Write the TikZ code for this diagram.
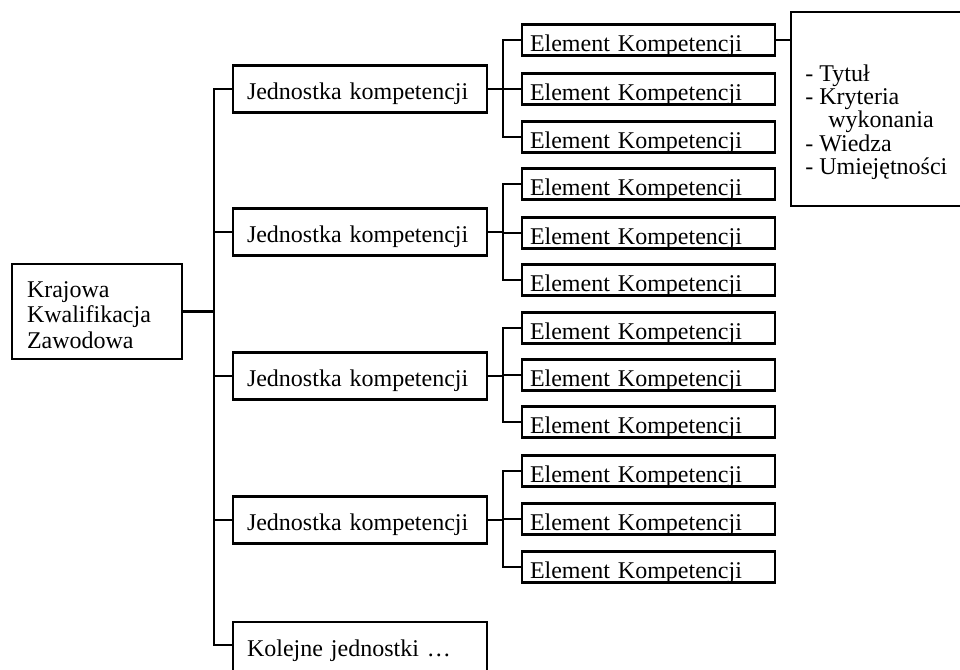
\documentclass[tikz,border=0pt]{standalone}
\usepackage{fontspec}
\setmainfont{Liberation Serif}
\begin{document}
\begin{tikzpicture}[x=0.5pt,y=-0.5pt,
  every node/.style={font=\fontsize{12}{13}\selectfont},
  frame/.style={draw, line width=1.3pt, rectangle, align=left},
  elbox/.style={frame, inner xsep=4pt, inner ysep=0pt, text width=118.5pt, text height=13.5pt, text depth=2pt},
  jbox/.style={frame, inner xsep=7pt, inner ysep=0pt, text width=113pt, text height=17pt, text depth=6.5pt},
  conn/.style={line width=1.3pt, line join=miter, line cap=rect}]
\useasboundingbox (0,0) rectangle (960,670);
\clip (0,0) rectangle (960,670);

% root
\node[frame, inner xsep=7.5pt, inner ysep=0pt, text width=70pt, text height=16.5pt, text depth=31pt, font=\fontsize{12}{12.75}\selectfont] (main) at (97,311.5) {Krajowa\\Kwalifikacja\\Zawodowa};
\coordinate (t) at (214,311.5);

% units
\node[jbox] (j1) at (360,89) {Jednostka kompetencji};
\node[jbox] (j2) at (360,232) {Jednostka kompetencji};
\node[jbox] (j3) at (360,376) {Jednostka kompetencji};
\node[jbox] (j4) at (360,520) {Jednostka kompetencji};
\node[jbox, text depth=10pt] (k) at (360,649) {Kolejne jednostki …};

% elements
\node[elbox] (e11) at (648.5,40) {Element Kompetencji};
\node[elbox] (e12) at (648.5,89) {Element Kompetencji};
\node[elbox] (e13) at (648.5,137) {Element Kompetencji};
\node[elbox] (e21) at (648.5,184) {Element Kompetencji};
\node[elbox] (e22) at (648.5,233) {Element Kompetencji};
\node[elbox] (e23) at (648.5,280) {Element Kompetencji};
\node[elbox] (e31) at (648.5,328) {Element Kompetencji};
\node[elbox] (e32) at (648.5,375) {Element Kompetencji};
\node[elbox] (e33) at (648.5,422) {Element Kompetencji};
\node[elbox] (e41) at (648.5,471) {Element Kompetencji};
\node[elbox] (e42) at (648.5,519) {Element Kompetencji};
\node[elbox] (e43) at (648.5,567) {Element Kompetencji};

% detail box
\node[frame, inner sep=0pt, minimum width=85.5pt, minimum height=97pt] (rb) at (876.5,109) {};
\node[anchor=north west, inner sep=0pt, align=left, font=\fontsize{12}{11.7}\selectfont] (rt) at (805,64)
  {- Tytuł\\- Kryteria\\\hspace*{11.5pt}wykonania\\- Wiedza\\- Umiejętności};

% connectors root -> units
\draw[conn] (main.east) -- (t);
\foreach \n in {j1,j2,j3,j4} \draw[conn] (\n.west) -| (t);
\draw[conn] ([yshift=2pt]k.west) -| (t);

% sub-trunks
\coordinate (s1) at (503,89);
\coordinate (s2) at (503,232);
\coordinate (s3) at (503,376);
\coordinate (s4) at (503,520);
\foreach \g in {1,2,3,4} {
  \draw[conn] (j\g.east) -- (s\g);
  \foreach \m in {1,2,3} \draw[conn] (e\g\m.west) -| (s\g);
}

% element -> detail box
\draw[conn] (e11.east) -- (e11.east -| rb.west);
\end{tikzpicture}
\end{document}
